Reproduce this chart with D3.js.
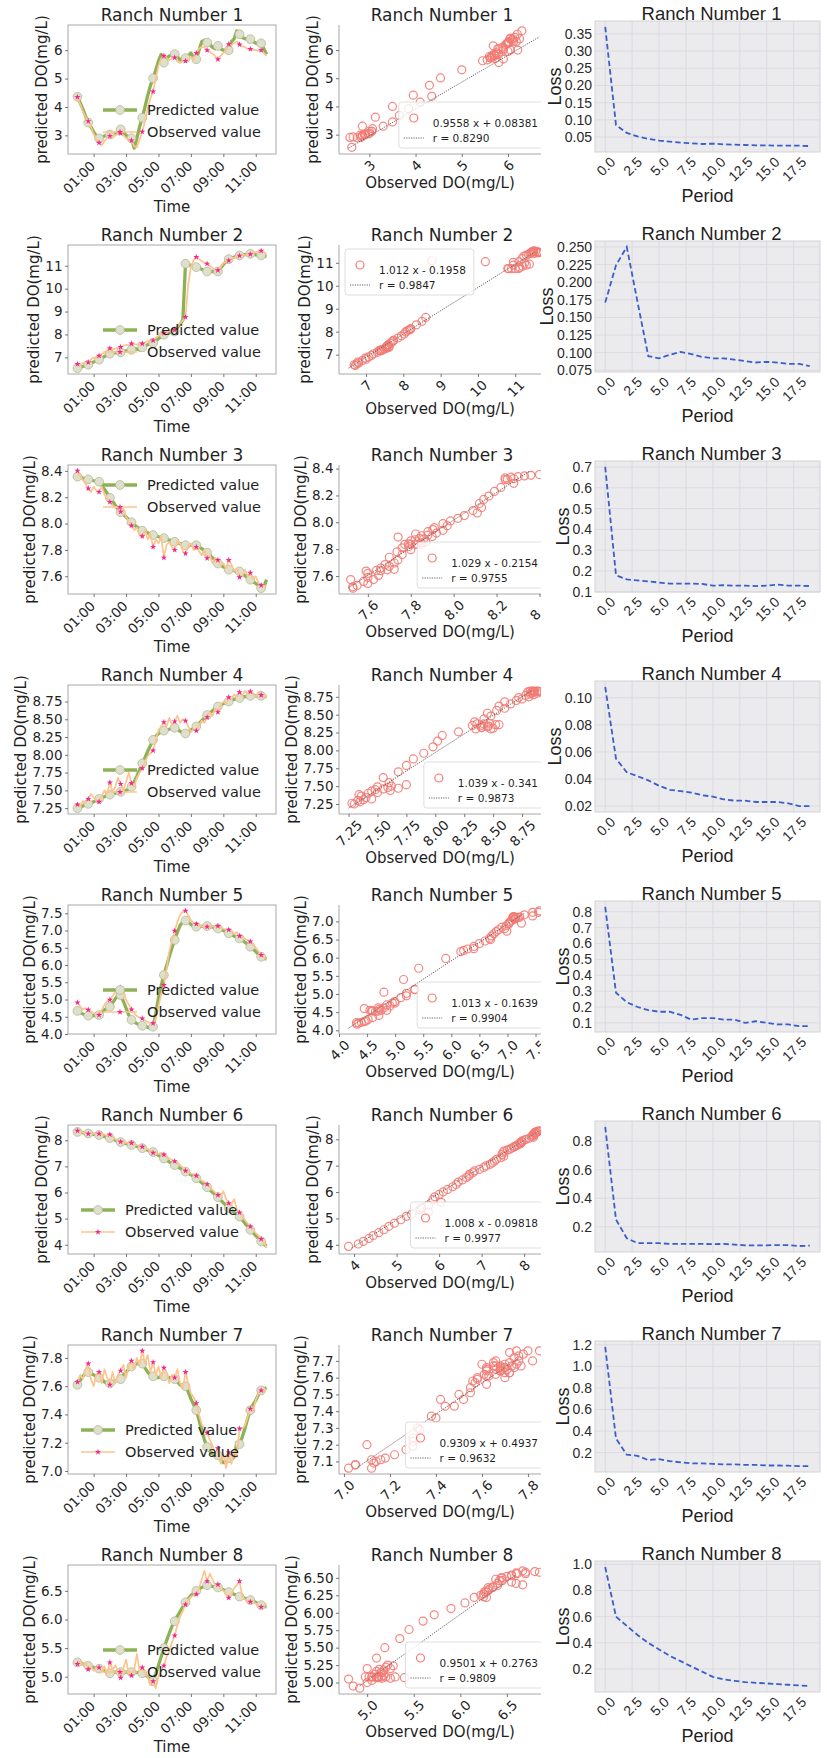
<!DOCTYPE html>
<html><head><meta charset="utf-8">
<script src="https://cdn.jsdelivr.net/npm/d3@7"></script>
<style>body{margin:0;background:#fff}svg{display:block}</style>
</head><body>
<svg id="c" width="827" height="1758"></svg>
<script>
// ---------------- DATA ----------------
const ranchNames = ["Ranch Number 1","Ranch Number 2","Ranch Number 3","Ranch Number 4","Ranch Number 5","Ranch Number 6","Ranch Number 7","Ranch Number 8"];
const stepMinutes = 10; // samples every 10 minutes from 00:00
const timeTickHours = [1,3,5,7,9,11];
const timeTickLabels = ["01:00","03:00","05:00","07:00","09:00","11:00"];
const legendLabels = ["Predicted value","Observed value"];

const predicted1 = [4.36,4.15,3.92,3.68,3.45,3.3,3.12,2.98,2.89,2.92,2.98,3.0,3.03,3.02,3.05,3.12,3.21,3.12,3.0,2.95,2.9,2.55,2.9,3.3,3.62,4.0,4.4,4.75,5.01,5.3,5.62,5.85,5.56,5.7,5.8,5.82,5.86,5.78,5.65,5.72,5.72,5.8,5.9,5.75,5.68,6.0,6.3,6.35,6.27,6.2,6.1,6.05,6.15,6.05,6.0,5.95,6.0,6.3,6.4,6.68,6.56,6.45,6.4,6.42,6.39,6.3,6.25,6.22,6.24,6.05,5.86];
const observed1 = [4.35,4.1,3.85,3.65,3.5,3.3,3.05,2.85,2.74,2.65,2.8,2.9,2.98,2.92,3.0,3.05,3.07,3.0,2.9,2.85,2.82,2.62,2.58,2.85,3.13,3.5,3.95,4.3,4.54,5.0,5.45,5.7,5.8,5.72,5.65,5.7,5.74,5.6,5.55,5.62,5.62,5.7,5.75,5.65,5.9,6.05,6.12,6.1,6.0,5.95,5.88,5.78,5.68,5.8,5.9,6.0,6.21,6.18,6.25,6.3,6.2,6.15,6.1,6.05,6.04,6.02,6.0,5.98,6.0,5.9,5.8];
const predicted2 = [6.53,6.56,6.6,6.64,6.68,6.74,6.8,6.85,6.9,6.97,7.04,7.1,7.16,7.18,7.2,7.21,7.22,7.25,7.28,7.3,7.33,7.4,7.36,7.32,7.44,7.5,7.55,7.6,7.63,7.72,7.82,7.9,7.99,8.03,8.07,8.1,8.13,8.3,8.45,8.62,11.09,11.05,11.02,10.98,10.94,10.9,10.85,10.8,10.75,10.74,10.75,10.75,10.75,10.9,11.05,11.18,11.29,11.33,11.38,11.42,11.45,11.47,11.49,11.5,11.52,11.5,11.48,11.46,11.45,11.43,11.4];
const observed2 = [6.71,6.68,6.75,6.8,6.78,6.9,7.0,6.98,7.07,7.15,7.2,7.3,7.4,7.35,7.38,7.42,7.45,7.5,7.55,7.52,7.6,7.58,7.55,7.62,7.6,7.65,7.7,7.72,7.74,7.85,7.95,8.02,8.06,8.1,8.15,8.18,8.2,8.35,8.5,8.6,8.76,10.2,10.95,11.25,11.38,11.3,11.2,11.12,11.09,11.0,10.9,10.82,10.8,10.95,11.1,11.18,11.23,11.3,11.36,11.4,11.44,11.45,11.47,11.49,11.5,11.55,11.6,11.63,11.65,11.6,11.5];
const predicted3 = [8.356,8.35,8.345,8.34,8.336,8.33,8.325,8.32,8.318,8.29,8.26,8.23,8.195,8.17,8.14,8.11,8.087,8.07,8.05,8.03,8.01,7.99,7.975,7.96,7.946,7.94,7.93,7.92,7.913,7.905,7.9,7.895,7.89,7.88,7.875,7.87,7.862,7.855,7.848,7.84,7.836,7.836,7.836,7.836,7.836,7.82,7.81,7.795,7.78,7.76,7.74,7.72,7.697,7.685,7.672,7.66,7.65,7.646,7.642,7.64,7.637,7.62,7.605,7.59,7.574,7.56,7.545,7.53,7.51,7.52,7.574];
const observed3 = [8.40,8.36,8.33,8.30,8.267,8.24,8.28,8.25,8.24,8.28,8.22,8.19,8.164,8.14,8.12,8.13,8.09,8.11,8.05,8.02,7.985,7.95,7.97,7.91,7.903,7.95,7.88,7.92,7.823,7.88,7.85,7.9,7.741,7.84,7.86,7.82,7.8,7.87,7.85,7.79,7.772,7.83,7.85,7.8,7.823,7.79,7.76,7.8,7.736,7.76,7.7,7.74,7.723,7.68,7.7,7.66,7.723,7.69,7.64,7.66,7.592,7.6,7.65,7.6,7.626,7.58,7.6,7.55,7.531,7.53,7.52];
const predicted4 = [7.25,7.26,7.28,7.3,7.31,7.32,7.34,7.36,7.38,7.4,7.41,7.43,7.44,7.45,7.46,7.47,7.48,7.49,7.5,7.52,7.55,7.62,7.7,7.79,7.88,7.96,8.05,8.13,8.21,8.26,8.3,8.32,8.34,8.35,8.36,8.37,8.38,8.36,8.33,8.31,8.3,8.32,8.35,8.37,8.4,8.44,8.48,8.52,8.56,8.59,8.62,8.65,8.68,8.7,8.72,8.74,8.75,8.77,8.78,8.79,8.8,8.81,8.82,8.82,8.83,8.83,8.83,8.83,8.83,8.82,8.82];
const observed4 = [7.3,7.28,7.35,7.33,7.38,7.45,7.4,7.36,7.34,7.42,7.5,7.45,7.61,7.48,7.55,7.68,7.59,7.5,7.62,7.75,7.6,7.55,7.68,7.75,7.81,7.9,7.98,8.02,8.06,8.2,8.35,8.4,8.46,8.4,8.52,8.42,8.47,8.55,8.45,8.5,8.48,8.4,8.32,8.36,8.34,8.42,8.48,8.45,8.53,8.6,8.55,8.65,8.6,8.7,8.75,8.72,8.81,8.78,8.85,8.82,8.88,8.83,8.9,8.86,8.89,8.85,8.82,8.88,8.84,8.8,8.85];
const predicted5 = [4.67,4.62,4.58,4.55,4.53,4.52,4.53,4.54,4.55,4.62,4.7,4.75,4.79,4.9,5.02,5.12,5.13,4.95,4.75,4.55,4.41,4.35,4.3,4.26,4.24,4.22,4.2,4.17,4.21,4.6,5.05,5.4,5.71,5.98,6.25,6.5,6.73,6.95,7.15,7.25,7.29,7.25,7.18,7.12,7.11,7.11,7.12,7.12,7.13,7.12,7.1,7.08,7.06,7.03,7.0,6.96,6.92,6.88,6.84,6.8,6.77,6.72,6.66,6.6,6.53,6.46,6.39,6.31,6.24,6.2,6.17];
const observed5 = [4.91,4.8,4.72,4.75,4.7,4.65,4.6,4.58,4.55,4.7,4.85,4.95,4.99,5.1,5.2,5.35,5.35,5.2,5.0,4.85,4.71,4.6,4.52,4.48,4.45,4.4,4.35,4.32,4.31,4.45,4.8,5.15,5.42,5.9,6.4,6.7,6.99,7.25,7.45,7.55,7.57,7.45,7.3,7.22,7.19,7.15,7.12,7.1,7.11,7.1,7.12,7.14,7.13,7.08,7.05,7.03,7.02,6.98,6.9,6.95,6.84,6.8,6.76,6.72,6.68,6.6,6.5,6.4,6.29,6.22,6.17];
const predicted6 = [8.32,8.31,8.29,8.27,8.26,8.25,8.23,8.22,8.2,8.17,8.14,8.11,8.08,8.04,8.0,7.97,7.93,7.9,7.87,7.85,7.82,7.79,7.76,7.73,7.7,7.66,7.62,7.59,7.55,7.49,7.42,7.36,7.3,7.24,7.17,7.11,7.05,6.99,6.93,6.86,6.8,6.74,6.68,6.61,6.55,6.46,6.38,6.29,6.2,6.1,6.01,5.91,5.82,5.71,5.61,5.5,5.4,5.32,5.24,5.16,5.08,4.95,4.82,4.7,4.57,4.46,4.35,4.24,4.13,4.03,3.94];
const observed6 = [8.36,8.33,8.3,8.28,8.25,8.27,8.24,8.25,8.25,8.2,8.22,8.18,8.22,8.12,8.05,8.0,7.94,7.95,7.9,7.92,7.9,7.85,7.82,7.78,7.75,7.7,7.66,7.6,7.52,7.5,7.48,7.52,7.45,7.35,7.3,7.25,7.2,7.1,7.05,6.95,6.83,6.8,6.72,6.7,6.64,6.55,6.45,6.4,6.32,6.2,6.1,6.0,5.9,5.85,6.05,5.75,5.59,5.55,5.75,5.35,5.23,5.1,4.95,4.82,4.7,4.58,4.45,4.35,4.22,4.1,3.87];
const predicted7 = [7.61,7.64,7.67,7.69,7.70,7.69,7.68,7.67,7.66,7.65,7.63,7.62,7.62,7.63,7.64,7.64,7.65,7.68,7.7,7.72,7.74,7.75,7.76,7.76,7.76,7.73,7.7,7.68,7.67,7.66,7.66,7.67,7.67,7.66,7.66,7.65,7.65,7.63,7.61,7.6,7.6,7.56,7.51,7.47,7.43,7.36,7.29,7.22,7.17,7.14,7.12,7.11,7.11,7.08,7.06,7.06,7.09,7.08,7.1,7.2,7.19,7.24,7.3,7.37,7.43,7.47,7.5,7.54,7.57,7.58,7.59];
const observed7 = [7.63,7.68,7.65,7.72,7.76,7.65,7.6,7.68,7.70,7.62,7.72,7.66,7.61,7.7,7.62,7.68,7.71,7.75,7.66,7.74,7.78,7.72,7.8,7.75,7.85,7.76,7.82,7.7,7.77,7.68,7.74,7.66,7.73,7.7,7.62,7.68,7.66,7.72,7.62,7.58,7.70,7.62,7.55,7.52,7.48,7.4,7.33,7.3,7.27,7.22,7.18,7.12,7.16,7.05,7.12,7.02,7.13,7.05,7.14,7.1,7.30,7.3,7.32,7.38,7.44,7.42,7.5,7.55,7.57,7.56,7.58];
const predicted8 = [5.25,5.24,5.22,5.2,5.19,5.18,5.16,5.15,5.14,5.12,5.1,5.08,5.06,5.07,5.08,5.08,5.08,5.08,5.08,5.08,5.08,5.08,5.07,5.07,5.06,5.03,5.0,4.95,4.92,5.05,5.2,5.35,5.5,5.63,5.76,5.88,5.97,6.06,6.14,6.22,6.3,6.36,6.42,6.46,6.5,6.53,6.56,6.58,6.6,6.59,6.58,6.57,6.56,6.54,6.52,6.5,6.48,6.46,6.44,6.42,6.4,6.39,6.37,6.36,6.34,6.32,6.3,6.27,6.25,6.23,6.22];
const observed8 = [5.22,5.28,5.2,5.25,5.13,5.18,5.1,5.15,5.16,5.08,5.18,5.05,5.25,5.12,5.2,5.1,4.98,5.15,5.3,5.05,5.02,5.12,5.4,5.1,5.16,5.05,5.0,4.85,4.92,4.8,5.0,5.1,5.19,5.35,5.45,5.6,5.72,5.9,6.05,6.15,6.26,6.35,6.4,6.42,6.44,6.55,6.7,6.85,6.67,6.8,6.7,6.6,6.61,6.55,6.5,6.45,6.38,6.45,6.55,6.6,6.67,6.4,6.35,6.3,6.31,6.3,6.28,6.25,6.22,6.25,6.28];

const fitSlopes = [0.9558,1.012,1.029,1.039,1.013,1.008,0.9309,0.9501];
const fitIntercepts = [0.08381,-0.1958,-0.2154,-0.341,-0.1639,-0.09818,0.4937,0.2763];
const rValues = [0.8290,0.9847,0.9755,0.9873,0.9904,0.9977,0.9632,0.9809];

const loss1 = [0.370,0.085,0.062,0.052,0.045,0.040,0.037,0.034,0.032,0.030,0.031,0.029,0.028,0.027,0.026,0.026,0.025,0.025,0.025,0.024];
const loss2 = [0.171,0.224,0.250,0.172,0.095,0.092,0.097,0.101,0.098,0.094,0.092,0.092,0.090,0.088,0.086,0.087,0.086,0.084,0.084,0.081];
const loss3 = [0.70,0.18,0.16,0.155,0.15,0.145,0.14,0.14,0.14,0.138,0.13,0.132,0.13,0.13,0.128,0.13,0.135,0.13,0.13,0.128];
const loss4 = [0.108,0.055,0.045,0.042,0.039,0.035,0.032,0.031,0.030,0.028,0.027,0.025,0.024,0.024,0.023,0.023,0.023,0.022,0.020,0.020];
const loss5 = [0.83,0.29,0.23,0.20,0.18,0.17,0.17,0.15,0.12,0.13,0.13,0.12,0.12,0.10,0.11,0.10,0.09,0.09,0.08,0.08];
const loss6 = [0.90,0.25,0.12,0.085,0.085,0.085,0.08,0.08,0.08,0.08,0.078,0.08,0.075,0.07,0.07,0.07,0.072,0.072,0.065,0.068];
const loss7 = [1.18,0.33,0.18,0.17,0.13,0.14,0.12,0.11,0.10,0.10,0.095,0.09,0.09,0.085,0.085,0.08,0.08,0.078,0.075,0.075];
const loss8 = [0.98,0.60,0.53,0.46,0.40,0.35,0.30,0.26,0.22,0.18,0.14,0.12,0.11,0.10,0.095,0.09,0.085,0.08,0.075,0.07];

const tsYTicks = [["3","4","5","6"],["7","8","9","10","11"],["7.6","7.8","8.0","8.2","8.4"],["7.25","7.50","7.75","8.00","8.25","8.50","8.75"],["4.0","4.5","5.0","5.5","6.0","6.5","7.0","7.5"],["4","5","6","7","8"],["7.0","7.2","7.4","7.6","7.8"],["5.0","5.5","6.0","6.5"]];
const scXTicks = [["3","4","5","6"],["7","8","9","10","11"],["7.6","7.8","8.0","8.2","8.4"],["7.25","7.50","7.75","8.00","8.25","8.50","8.75"],["4.0","4.5","5.0","5.5","6.0","6.5","7.0","7.5"],["4","5","6","7","8"],["7.0","7.2","7.4","7.6","7.8"],["5.0","5.5","6.0","6.5"]];
const scYTicks = [["3","4","5","6"],["7","8","9","10","11"],["7.6","7.8","8.0","8.2","8.4"],["7.25","7.50","7.75","8.00","8.25","8.50","8.75"],["4.0","4.5","5.0","5.5","6.0","6.5","7.0"],["4","5","6","7","8"],["7.1","7.2","7.3","7.4","7.5","7.6","7.7"],["5.00","5.25","5.50","5.75","6.00","6.25","6.50"]];
const lossYTicks = [["0.05","0.10","0.15","0.20","0.25","0.30","0.35"],["0.075","0.100","0.125","0.150","0.175","0.200","0.225","0.250"],["0.1","0.2","0.3","0.4","0.5","0.6","0.7"],["0.02","0.04","0.06","0.08","0.10"],["0.1","0.2","0.3","0.4","0.5","0.6","0.7","0.8"],["0.2","0.4","0.6","0.8"],["0.2","0.4","0.6","0.8","1.0","1.2"],["0.2","0.4","0.6","0.8","1.0"]];
const lossXTicks = ["0.0","2.5","5.0","7.5","10.0","12.5","15.0","17.5"];

const tsLegendLoc = ["lower right","lower right","upper right","lower right","lower right","lower left","lower left","lower right"];
const scLegendLoc = ["lower right","upper left","lower right","lower right","lower right","lower right","lower right","lower right"];

const predictedAll = [predicted1,predicted2,predicted3,predicted4,predicted5,predicted6,predicted7,predicted8];
const observedAll = [observed1,observed2,observed3,observed4,observed5,observed6,observed7,observed8];
const lossAll = [loss1,loss2,loss3,loss4,loss5,loss6,loss7,loss8];

// ---------------- LAYOUT / STYLE ----------------
const ROW = 220;
const C1 = {x:68, w:208, y:25, h:129};
const C2 = {x:339, w:210, y:25, h:129, cut:541};
const C3 = {x:595, w:225, y:21, h:131};
const DV = "'DejaVu Sans', sans-serif";
const LS = "'Liberation Sans', Arial, sans-serif";
const TICK = 13.5;
const COL = {pred:"#8db255", mkFill:"#dfe0cb", mkStroke:"#b5b995", obs:"#fdc48d", star:"#f2278f",
  sc:"#f27b74", fit:"#6e5c5c", loss:"#3b5ecc", bg:"#ebeaed", grid:"#dcdbdf", spine:"#a8a8a8", text:"#1f1f1f", tick:"#555"};

const svg = d3.select("#c");
const defs = svg.append("defs");
defs.append("clipPath").attr("id","clipTS").append("rect").attr("x",0).attr("y",0).attr("width",C1.w).attr("height",C1.h);
defs.append("clipPath").attr("id","clipSC").append("rect").attr("x",0).attr("y",0).attr("width",C2.w).attr("height",C2.h);
defs.append("clipPath").attr("id","cropC2").append("rect").attr("x",0).attr("y",0).attr("width",C2.cut).attr("height",1758);

function padExt(e){const d=(e[1]-e[0])*0.05;return [e[0]-d,e[1]+d];}
function inDomain(scale,v){const d=scale.domain();const lo=Math.min(d[0],d[1]),hi=Math.max(d[0],d[1]);const t=(hi-lo)*0.004;return v>=lo-t&&v<=hi+t;}

function styleAxis(a, font, size, color){
  a.select(".domain").remove();
  a.selectAll(".tick line").attr("stroke",COL.tick).attr("stroke-width",0.8);
  a.selectAll(".tick text").attr("font-family",font).attr("font-size",size).attr("fill",color);
}
function rotTicks(a, capH, pad, mode){
  a.selectAll(".tick text").each(function(){
    const t = d3.select(this).attr("y",null).attr("dy",null).attr("x",null);
    const L = this.getComputedTextLength();
    let px, py;
    if (mode==="right"){ t.attr("text-anchor","end"); px = 2; py = pad + 0.707*capH; }
    else { t.attr("text-anchor","middle"); px = 0.354*capH; py = pad + (L+capH)*0.354 + 0.354*capH; }
    t.attr("transform",`translate(${px},${py}) rotate(-45)`);
  });
}
function yLabel(g, axisG, text, font, size, cy, gap){
  const bb = axisG.node().getBBox();
  g.append("text").attr("transform",`translate(${bb.x-gap},${cy}) rotate(-90)`)
   .attr("text-anchor","middle").attr("font-family",font).attr("font-size",size).attr("fill",COL.text).text(text);
}
function xLabel(g, axisG, axisY, text, font, size, cx, gap){
  const bb = axisG.node().getBBox();
  g.append("text").attr("x",cx).attr("y",axisY+bb.y+bb.height+gap)
   .attr("text-anchor","middle").attr("font-family",font).attr("font-size",size).attr("fill",COL.text).text(text);
}
const starPath = d3.symbol(d3.symbolStar, 12)();

const cropG = svg.append("g").attr("clip-path","url(#cropC2)");

for (let k=0;k<8;k++){
  const obs = observedAll[k], pred = predictedAll[k];
  const idx = d3.range(obs.length);
  const ext = padExt(d3.extent(obs.concat(pred)));

  // ============ COLUMN 1: time series ============
  {
    const g = svg.append("g").attr("transform",`translate(${C1.x},${C1.y+k*ROW})`);
    const x = d3.scaleLinear().domain(padExt([0,(obs.length-1)*stepMinutes])).range([0,C1.w]);
    const y = d3.scaleLinear().domain(ext).range([C1.h,0]);
    const plot = g.append("g").attr("clip-path","url(#clipTS)");
    const line = arr => d3.line().x(i=>x(i*stepMinutes)).y(i=>y(arr[i]))(idx);
    plot.append("path").attr("d",line(pred)).attr("fill","none").attr("stroke",COL.pred).attr("stroke-width",3.3).attr("stroke-linejoin","round");
    plot.selectAll(null).data(idx.filter(i=>i%4===0)).join("circle")
      .attr("cx",i=>x(i*stepMinutes)).attr("cy",i=>y(pred[i])).attr("r",4.4)
      .attr("fill",COL.mkFill).attr("stroke",COL.mkStroke).attr("stroke-width",0.8);
    plot.append("path").attr("d",line(obs)).attr("fill","none").attr("stroke",COL.obs).attr("stroke-width",1.7).attr("stroke-linejoin","round");
    plot.selectAll(null).data(idx.filter(i=>i%4===0)).join("path")
      .attr("d",starPath).attr("transform",i=>`translate(${x(i*stepMinutes)},${y(obs[i])})`).attr("fill",COL.star);
    g.append("rect").attr("width",C1.w).attr("height",C1.h).attr("fill","none").attr("stroke",COL.spine).attr("stroke-width",1);

    const yt = tsYTicks[k].filter(s=>inDomain(y,+s));
    const ya = g.append("g").call(d3.axisLeft(y).tickValues(yt.map(Number)).tickFormat((d,i)=>yt[i]).tickSize(3).tickPadding(2.5));
    styleAxis(ya, DV, TICK, COL.text);
    const xa = g.append("g").attr("transform",`translate(0,${C1.h})`)
      .call(d3.axisBottom(x).tickValues(timeTickHours.map(h=>h*60)).tickFormat((d,i)=>timeTickLabels[i]).tickSize(3));
    styleAxis(xa, DV, TICK, COL.text);
    rotTicks(xa, 9.8, 6, "right");
    yLabel(g, ya, "predicted DO(mg/L)", DV, 15, C1.h/2, 6.5);
    xLabel(g, xa, C1.h, "Time", DV, 15, C1.w/2, 15);
    g.append("text").attr("x",C1.w/2).attr("y",-4).attr("text-anchor","middle").attr("font-family",DV).attr("font-size",17).attr("fill",COL.text).text(ranchNames[k]);

    // legend
    const loc = tsLegendLoc[k];
    const rows = loc.startsWith("upper") ? [20,42] : [C1.h-44, C1.h-22];
    const x0 = loc.endsWith("left") ? 13 : C1.w-173;
    legendLabels.forEach((lab,j)=>{
      const yy = rows[j];
      g.append("line").attr("x1",x0).attr("x2",x0+34).attr("y1",yy).attr("y2",yy)
        .attr("stroke", j===0?COL.pred:COL.obs).attr("stroke-width", j===0?3.3:1.7);
      if (j===0) g.append("circle").attr("cx",x0+17).attr("cy",yy).attr("r",4.4).attr("fill",COL.mkFill).attr("stroke",COL.mkStroke).attr("stroke-width",0.8);
      else g.append("path").attr("d",starPath).attr("transform",`translate(${x0+17},${yy})`).attr("fill",COL.star);
      g.append("text").attr("x",x0+44).attr("y",yy).attr("dy","0.36em").attr("font-family",DV).attr("font-size",14.5).attr("fill",COL.text).text(lab);
    });
  }

  // ============ COLUMN 2: scatter ============
  {
    const g = cropG.append("g").attr("transform",`translate(${C2.x},${C2.y+k*ROW})`);
    const a = fitSlopes[k], b = fitIntercepts[k];
    const pExt = d3.extent(pred);
    const lineY = pExt.map(v=>a*v+b);
    const x = d3.scaleLinear().domain(padExt(d3.extent(obs.concat(pExt)))).range([0,C2.w]);
    const y = d3.scaleLinear().domain(padExt(d3.extent(pred.concat(lineY)))).range([C2.h,0]);
    const plot = g.append("g").attr("clip-path","url(#clipSC)");
    plot.selectAll(null).data(idx).join("circle")
      .attr("cx",i=>x(obs[i])).attr("cy",i=>y(pred[i])).attr("r",4)
      .attr("fill","none").attr("stroke",COL.sc).attr("stroke-width",1.2).attr("opacity",0.9);
    plot.append("line").attr("x1",x(pExt[0])).attr("y1",y(lineY[0])).attr("x2",x(pExt[1])).attr("y2",y(lineY[1]))
      .attr("stroke",COL.fit).attr("stroke-width",1).attr("stroke-dasharray","1.2,1.2");
    g.append("line").attr("x1",0).attr("x2",0).attr("y1",0).attr("y2",C2.h).attr("stroke",COL.spine).attr("stroke-width",1);
    g.append("line").attr("x1",0).attr("x2",C2.w).attr("y1",C2.h).attr("y2",C2.h).attr("stroke",COL.spine).attr("stroke-width",1);

    const yt = scYTicks[k].filter(s=>inDomain(y,+s));
    const ya = g.append("g").call(d3.axisLeft(y).tickValues(yt.map(Number)).tickFormat((d,i)=>yt[i]).tickSize(3).tickPadding(2.5));
    styleAxis(ya, DV, TICK, COL.text);
    const xt = scXTicks[k].filter(s=>inDomain(x,+s));
    const xa = g.append("g").attr("transform",`translate(0,${C2.h})`)
      .call(d3.axisBottom(x).tickValues(xt.map(Number)).tickFormat((d,i)=>xt[i]).tickSize(3));
    styleAxis(xa, DV, TICK, COL.text);
    rotTicks(xa, 9.8, 5, "center");
    yLabel(g, ya, "predicted DO(mg/L)", DV, 15, C2.h/2, 6.5);
    xLabel(g, xa, C2.h, "Observed DO(mg/L)", DV, 15, 101, 14);
    g.append("text").attr("x",103).attr("y",-4).attr("text-anchor","middle").attr("font-family",DV).attr("font-size",17).attr("fill",COL.text).text(ranchNames[k]);

    // legend
    const fitText = `${a} x ${b<0?"-":"+"} ${Math.abs(b)}`;
    const rText = `r = ${rValues[k].toFixed(4)}`;
    const lg = g.append("g");
    const t1 = lg.append("text").attr("font-family",DV).attr("font-size",10.5).attr("fill",COL.text).attr("dy","0.36em").text(fitText);
    const t2 = lg.append("text").attr("font-family",DV).attr("font-size",10.5).attr("fill",COL.text).attr("dy","0.36em").text(rText);
    const tw = Math.max(t1.node().getComputedTextLength(), t2.node().getComputedTextLength());
    const bw = 34 + tw + 8, bh = 46;
    let bx, by;
    if (scLegendLoc[k]==="upper left"){ bx = 6; by = 4; }
    else { bx = C2.w - 3 - bw; by = C2.h - 6 - bh; }
    lg.insert("rect","text").attr("x",bx).attr("y",by).attr("width",bw).attr("height",bh).attr("rx",3)
      .attr("fill","#fff").attr("fill-opacity",0.8).attr("stroke","#d6d6d6").attr("stroke-width",0.8);
    lg.insert("circle","text").attr("cx",bx+15).attr("cy",by+16).attr("r",4).attr("fill","none").attr("stroke",COL.sc).attr("stroke-width",1.2);
    lg.insert("line","text").attr("x1",bx+5).attr("x2",bx+25).attr("y1",by+36).attr("y2",by+36).attr("stroke",COL.fit).attr("stroke-width",1).attr("stroke-dasharray","1.2,1.2");
    t1.attr("x",bx+34).attr("y",by+21);
    t2.attr("x",bx+34).attr("y",by+36);
  }

  // ============ COLUMN 3: loss ============
  {
    const loss = lossAll[k];
    const ep = d3.range(loss.length);
    const g = svg.append("g").attr("transform",`translate(${C3.x},${C3.y+k*ROW})`);
    const x = d3.scaleLinear().domain(padExt([0,loss.length-1])).range([0,C3.w]);
    const y = d3.scaleLinear().domain(padExt(d3.extent(loss))).range([C3.h,0]);
    g.append("rect").attr("width",C3.w).attr("height",C3.h).attr("fill",COL.bg);
    const yt = lossYTicks[k].filter(s=>inDomain(y,+s));
    g.selectAll(null).data(lossXTicks.map(Number)).join("line").attr("x1",d=>x(d)).attr("x2",d=>x(d)).attr("y1",0).attr("y2",C3.h).attr("stroke",COL.grid).attr("stroke-width",1);
    g.selectAll(null).data(yt.map(Number)).join("line").attr("y1",d=>y(d)).attr("y2",d=>y(d)).attr("x1",0).attr("x2",C3.w).attr("stroke",COL.grid).attr("stroke-width",1);
    g.append("rect").attr("width",C3.w).attr("height",C3.h).attr("fill","none").attr("stroke","#d3d2d6").attr("stroke-width",1);
    g.append("path").attr("d",d3.line().x(i=>x(i)).y(i=>y(loss[i]))(ep)).attr("fill","none")
      .attr("stroke",COL.loss).attr("stroke-width",1.8).attr("stroke-dasharray","5.5,3");
    const ya = g.append("g").call(d3.axisLeft(y).tickValues(yt.map(Number)).tickFormat((d,i)=>yt[i]).tickSize(0).tickPadding(3));
    styleAxis(ya, LS, 14, "#2a2a2a");
    const xa = g.append("g").attr("transform",`translate(0,${C3.h})`)
      .call(d3.axisBottom(x).tickValues(lossXTicks.map(Number)).tickFormat((d,i)=>lossXTicks[i]).tickSize(0));
    styleAxis(xa, LS, 14, "#2a2a2a");
    rotTicks(xa, 10, 4, "center");
    yLabel(g, ya, "Loss", LS, 18, C3.h/2, 4);
    xLabel(g, xa, C3.h, "Period", LS, 18, C3.w/2, 18);
    g.append("text").attr("x",C3.w/2+4).attr("y",-1).attr("text-anchor","middle").attr("font-family",LS).attr("font-size",18.5).attr("fill",COL.text).text(ranchNames[k]);
  }
}
</script>
</body></html>
